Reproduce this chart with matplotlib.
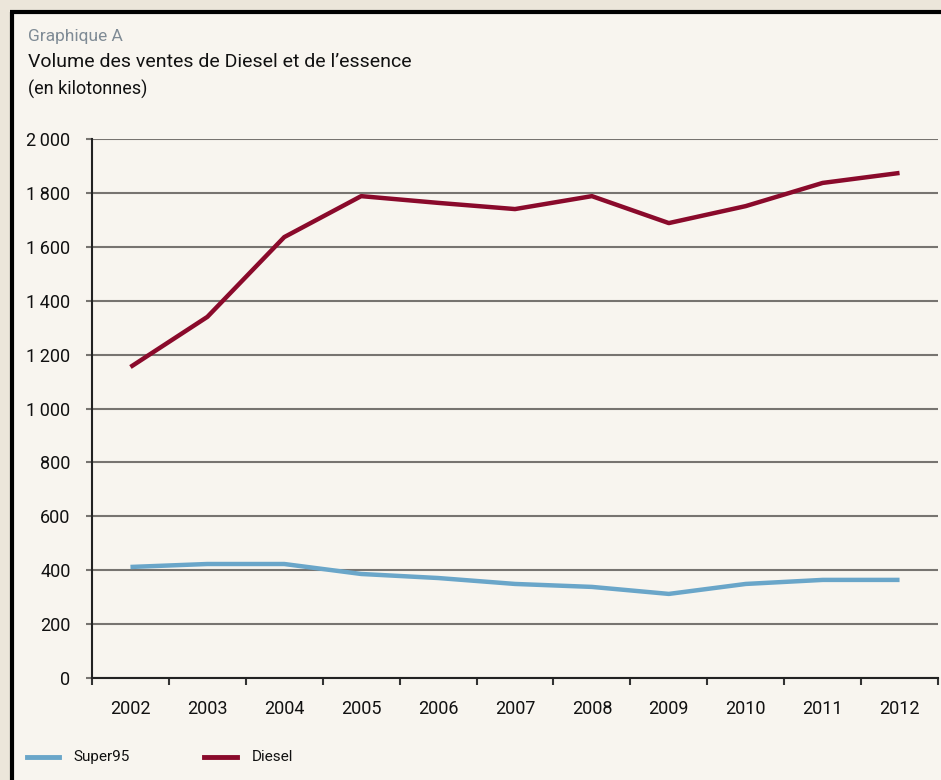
import matplotlib
matplotlib.use("Agg")
import matplotlib.pyplot as plt
from matplotlib.patches import Rectangle
from matplotlib.lines import Line2D

years = ["2002", "2003", "2004", "2005", "2006", "2007", "2008", "2009", "2010", "2011", "2012"]
diesel = [1154, 1340, 1636, 1788, 1763, 1740, 1788, 1688, 1751, 1837, 1874]
super95 = [412, 423, 423, 386, 371, 349, 338, 312, 349, 364, 364]
yticks = [0, 200, 400, 600, 800, 1000, 1200, 1400, 1600, 1800, 2000]
ytick_labels = ["0", "200", "400", "600", "800", "1\u2009000", "1\u2009200", "1\u2009400", "1\u2009600", "1\u2009800", "2\u2009000"]

plt.rcParams['font.family'] = ['Roboto', 'DejaVu Sans']

W, H = 941, 780
fig = plt.figure(figsize=(W / 100, H / 100), dpi=100)
fig.patch.set_facecolor("#ece6da")
# inner panel with black border
fig.patches.append(Rectangle((11 / W, 0), 1, 1 - 11 / H, transform=fig.transFigure,
                             facecolor="#f8f5ef", edgecolor="none", zorder=-10))
fig.add_artist(Line2D([11.5 / W, 11.5 / W], [0, 1 - 11.5 / H], transform=fig.transFigure,
                      color="black", lw=3, solid_capstyle="butt"))
fig.add_artist(Line2D([10 / W, 1], [1 - 11.5 / H, 1 - 11.5 / H], transform=fig.transFigure,
                      color="black", lw=3, solid_capstyle="butt"))

fig.text(28 / W, 1 - 37 / H, "Graphique A", color="#7f8b95", fontsize=12.5, va="center", ha="left")
fig.text(28 / W, 1 - 62 / H, "Volume des ventes de Diesel et de l\u2019essence", color="#111111",
         fontsize=14, va="center", ha="left")
fig.text(28 / W, 1 - 89 / H, "(en kilotonnes)", color="#111111", fontsize=13, va="center", ha="left")

left, right, bottom, top = 92, 938, 678, 139
ax = fig.add_axes([left / W, 1 - bottom / H, (right - left) / W, (bottom - top) / H])
ax.set_facecolor("none")
x = list(range(len(years)))
ax.plot(x, super95, color="#6aa6c9", lw=3.2, solid_capstyle="butt", zorder=3)
ax.plot(x, diesel, color="#8a0a2b", lw=3.2, solid_capstyle="butt", zorder=3)

ax.set_xlim(-0.5, len(years) - 0.5)
ax.set_ylim(0, 2000)
ax.set_yticks(yticks)
ax.set_yticklabels(ytick_labels, fontsize=13, color="#111111")
ax.set_xticks(x)
ax.set_xticklabels(years, fontsize=13, color="#111111")
ax.set_xticks([i - 0.5 for i in range(len(years) + 1)], minor=True)
ax.tick_params(axis="x", which="major", length=0, pad=16)
ax.tick_params(axis="x", which="minor", length=5, width=1.5, color="#333333", direction="out")
ax.tick_params(axis="y", length=4, width=1.5, color="#777470", pad=11.5)
for lab in ax.get_yticklabels():
    lab.set_horizontalalignment("right")
ax.grid(axis="y", color="#777470", lw=1.5, zorder=1)
for s in ["top", "right"]:
    ax.spines[s].set_visible(False)
ax.spines["left"].set_color("#222222")
ax.spines["left"].set_linewidth(1.5)
ax.spines["bottom"].set_color("#222222")
ax.spines["bottom"].set_linewidth(1.5)

# legend
ly = 1 - 757 / H
fig.add_artist(Line2D([27 / W, 59 / W], [ly, ly], transform=fig.transFigure, color="#6aa6c9", lw=3.5))
fig.text(73 / W, ly, "Super95", fontsize=11, va="center", ha="left", color="#111111")
fig.add_artist(Line2D([204 / W, 237 / W], [ly, ly], transform=fig.transFigure, color="#8a0a2b", lw=3.5))
fig.text(252 / W, ly, "Diesel", fontsize=11, va="center", ha="left", color="#111111")

fig.savefig("out.png", dpi=100, facecolor=fig.get_facecolor())
